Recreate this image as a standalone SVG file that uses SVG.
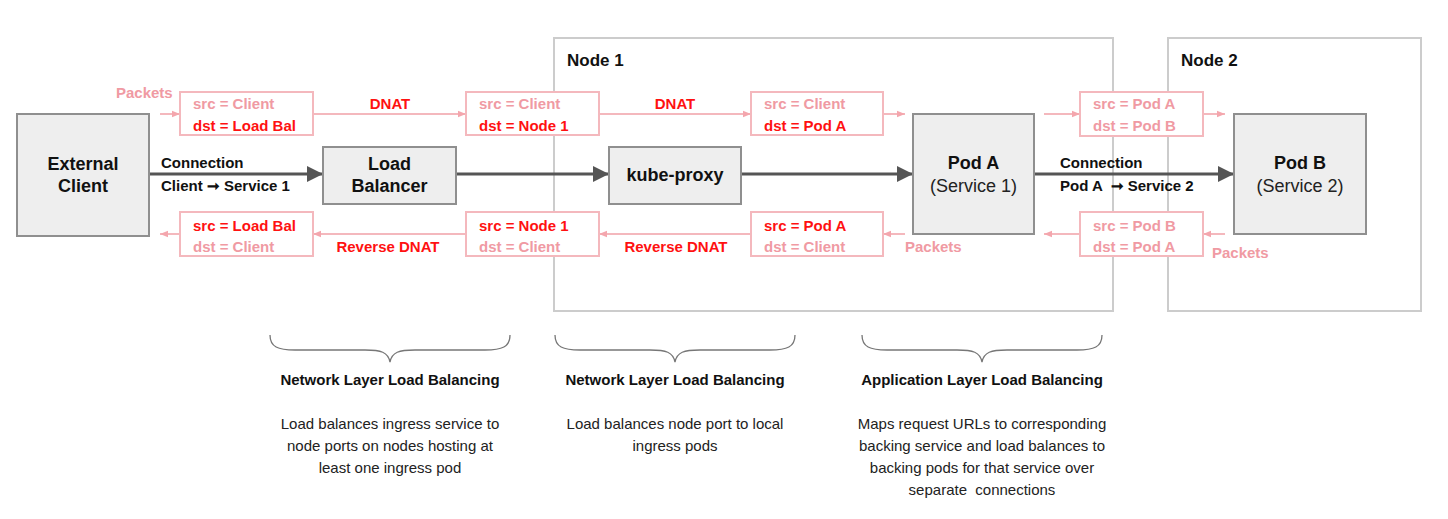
<svg xmlns="http://www.w3.org/2000/svg" width="1448" height="519" viewBox="0 0 1448 519">
<defs>
<style>
text{font-family:"Liberation Sans",Arial,sans-serif;}
.node{fill:#eeeeee;stroke:#8f8f8f;stroke-width:2;}
.grp{fill:none;stroke:#cccccc;stroke-width:2;}
.pkt{fill:#ffffff;stroke:#f4b8bd;stroke-width:2;}
.nl{font-size:18px;font-weight:bold;fill:#111;text-anchor:middle;}
.ns{font-size:18px;fill:#222;text-anchor:middle;}
.gl{font-size:17px;font-weight:bold;fill:#111;}
.lt{font-size:15px;font-weight:bold;fill:#f09aa3;}
.rd{font-size:15px;font-weight:bold;fill:#ff1111;}
.rdc{font-size:15px;font-weight:bold;fill:#ff1111;text-anchor:middle;}
.cl{font-size:15px;font-weight:bold;fill:#111;white-space:pre;}
.conn{stroke:#555;stroke-width:3;fill:none;marker-end:url(#ah);}
.pa{stroke:#f4b8bd;stroke-width:2;fill:none;marker-end:url(#pah);}
.brace{stroke:#777;stroke-width:1.3;fill:none;}
.bt{font-size:15px;font-weight:bold;fill:#111;text-anchor:middle;}
.bd{font-size:15px;fill:#222;text-anchor:middle;}
</style>
<marker id="ah" viewBox="0 0 10 10" refX="10" refY="5" markerWidth="5.5" markerHeight="5.5" orient="auto" markerUnits="strokeWidth">
<path d="M0,0 L10,5 L0,10 z" fill="#555"/>
</marker>
<marker id="pah" viewBox="0 0 10 10" refX="10" refY="5" markerWidth="4" markerHeight="4" orient="auto" markerUnits="strokeWidth">
<path d="M0,1 L10,5 L0,9 z" fill="#f4a6ad"/>
</marker>
</defs>
<rect width="1448" height="519" fill="#ffffff"/>

<g id="node1">
<rect class="grp" x="554" y="38" width="559" height="273"/>
<text class="gl" x="567" y="66">Node 1</text>
</g>
<g id="node2">
<rect class="grp" x="1168" y="38" width="253" height="273"/>
<text class="gl" x="1181" y="66">Node 2</text>
</g>

<g id="connectors">
<line class="conn" x1="149" y1="174" x2="323" y2="174"/>
<line class="conn" x1="456" y1="174" x2="609" y2="174"/>
<line class="conn" x1="741" y1="174" x2="913" y2="174"/>
<line class="conn" x1="1034" y1="174" x2="1234" y2="174"/>
<text class="cl" x="161" y="168">Connection</text>
<text class="cl" x="161" y="191">Client ➞ Service 1</text>
<text class="cl" x="1060" y="168">Connection</text>
<text class="cl" x="1060" y="191">Pod A  ➞ Service 2</text>

<line class="pa" x1="160" y1="114" x2="180" y2="114"/>
<line class="pa" x1="313" y1="114" x2="466" y2="114"/>
<line class="pa" x1="599" y1="114" x2="751" y2="114"/>
<line class="pa" x1="883" y1="114" x2="905" y2="114"/>
<line class="pa" x1="1044" y1="114" x2="1080" y2="114"/>
<line class="pa" x1="1203" y1="114" x2="1225" y2="114"/>
<line class="pa" x1="180" y1="234" x2="160" y2="234"/>
<line class="pa" x1="466" y1="234" x2="313" y2="234"/>
<line class="pa" x1="751" y1="234" x2="599" y2="234"/>
<line class="pa" x1="905" y1="234" x2="883" y2="234"/>
<line class="pa" x1="1080" y1="234" x2="1044" y2="234"/>
<line class="pa" x1="1225" y1="234" x2="1203" y2="234"/>
<text class="rdc" x="390" y="109">DNAT</text>
<text class="rdc" x="675" y="109">DNAT</text>
<text class="rdc" x="388" y="252">Reverse DNAT</text>
<text class="rdc" x="676" y="252">Reverse DNAT</text>
<text class="lt" x="116" y="98">Packets</text>
<text class="lt" x="905" y="252">Packets</text>
<text class="lt" x="1212" y="258">Packets</text>
</g>

<g id="external-client">
<rect class="node" x="17" y="114" width="132" height="122"/>
<text class="nl" x="83" y="170">External</text>
<text class="nl" x="83" y="192">Client</text>
</g>
<g id="load-balancer">
<rect class="node" x="323" y="147" width="133" height="57"/>
<text class="nl" x="389.5" y="170">Load</text>
<text class="nl" x="389.5" y="192">Balancer</text>
</g>
<g id="kube-proxy">
<rect class="node" x="609" y="147" width="132" height="57"/>
<text class="nl" x="675" y="181">kube-proxy</text>
</g>
<g id="pod-a">
<rect class="node" x="913" y="114" width="121" height="120"/>
<text class="nl" x="973.5" y="169">Pod A</text>
<text class="ns" x="973.5" y="192">(Service 1)</text>
</g>
<g id="pod-b">
<rect class="node" x="1234" y="114" width="132" height="120"/>
<text class="nl" x="1300" y="169">Pod B</text>
<text class="ns" x="1300" y="192">(Service 2)</text>
</g>

<g id="pkt1">
<rect class="pkt" x="180" y="92" width="133" height="43"/>
<text class="lt" x="193" y="109">src = Client</text>
<text class="rd" x="193" y="131">dst = Load Bal</text>
</g>
<g id="pkt2">
<rect class="pkt" x="466" y="92" width="133" height="43"/>
<text class="lt" x="479" y="109">src = Client</text>
<text class="rd" x="479" y="131">dst = Node 1</text>
</g>
<g id="pkt3">
<rect class="pkt" x="751" y="92" width="132" height="43"/>
<text class="lt" x="764" y="109">src = Client</text>
<text class="rd" x="764" y="131">dst = Pod A</text>
</g>
<g id="pkt4">
<rect class="pkt" x="1080" y="92" width="123" height="44"/>
<text class="lt" x="1093" y="109">src = Pod A</text>
<text class="lt" x="1093" y="131">dst = Pod B</text>
</g>
<g id="pkt5">
<rect class="pkt" x="180" y="212" width="133" height="44"/>
<text class="rd" x="193" y="231">src = Load Bal</text>
<text class="lt" x="193" y="252">dst = Client</text>
</g>
<g id="pkt6">
<rect class="pkt" x="466" y="212" width="133" height="44"/>
<text class="rd" x="479" y="231">src = Node 1</text>
<text class="lt" x="479" y="252">dst = Client</text>
</g>
<g id="pkt7">
<rect class="pkt" x="751" y="212" width="132" height="44"/>
<text class="rd" x="764" y="231">src = Pod A</text>
<text class="lt" x="764" y="252">dst = Client</text>
</g>
<g id="pkt8">
<rect class="pkt" x="1080" y="212" width="123" height="44"/>
<text class="lt" x="1093" y="231">src = Pod B</text>
<text class="lt" x="1093" y="252">dst = Pod A</text>
</g>

<g id="annotation1">
<path class="brace" d="M270,335 C270,347 278,350 295,350 L365,350 C381,350 388,352 390,362 C392,352 399,350 415,350 L485,350 C502,350 510,347 510,335"/>
<text class="bt" x="390" y="385">Network Layer Load Balancing</text>
<text class="bd" x="390" y="429">Load balances ingress service to</text>
<text class="bd" x="390" y="451">node ports on nodes hosting at</text>
<text class="bd" x="390" y="473">least one ingress pod</text>
</g>
<g id="annotation2">
<path class="brace" d="M555,335 C555,347 563,350 580,350 L650,350 C666,350 673,352 675,362 C677,352 684,350 700,350 L770,350 C787,350 795,347 795,335"/>
<text class="bt" x="675" y="385">Network Layer Load Balancing</text>
<text class="bd" x="675" y="429">Load balances node port to local</text>
<text class="bd" x="675" y="451">ingress pods</text>
</g>
<g id="annotation3">
<path class="brace" d="M862,335 C862,347 870,350 887,350 L957,350 C973,350 980,352 982,362 C984,352 991,350 1007,350 L1077,350 C1094,350 1102,347 1102,335"/>
<text class="bt" x="982" y="385">Application Layer Load Balancing</text>
<text class="bd" x="982" y="429">Maps request URLs to corresponding</text>
<text class="bd" x="982" y="451">backing service and load balances to</text>
<text class="bd" x="982" y="473">backing pods for that service over</text>
<text class="bd" x="982" y="495" style="white-space:pre">separate  connections</text>
</g>
</svg>
